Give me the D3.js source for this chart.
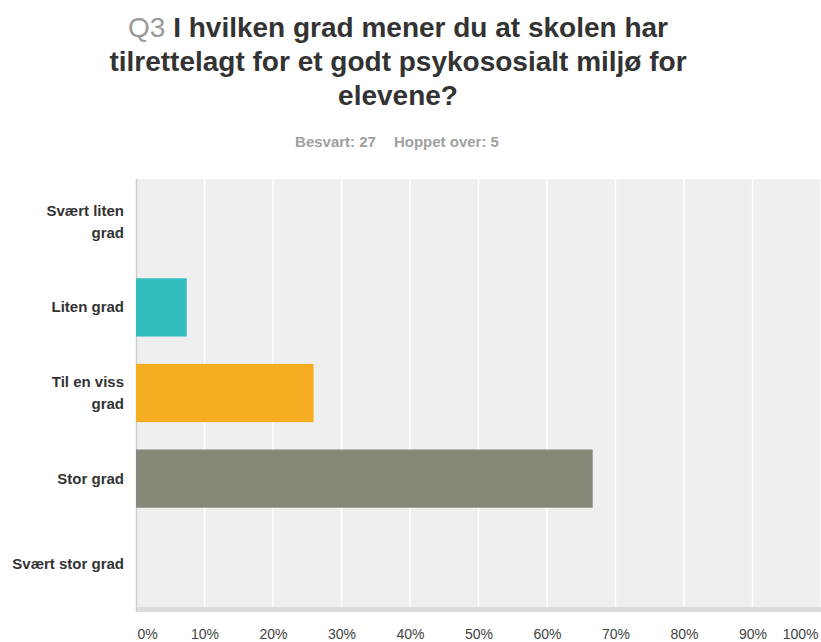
<!DOCTYPE html>
<html><head><meta charset="utf-8">
<script src="https://cdn.jsdelivr.net/npm/d3@7/dist/d3.min.js"></script>
<style>body{margin:0;background:#fff;}svg{display:block;font-family:"Liberation Sans",Arial,sans-serif;}</style>
</head><body>
<script>
const categories = ["Svært liten grad","Liten grad","Til en viss grad","Stor grad","Svært stor grad"];
const labelLines = [["Svært liten","grad"],["Liten grad"],["Til en viss","grad"],["Stor grad"],["Svært stor grad"]];
const values = [0, 7.41, 25.93, 66.67, 0];
const barColors = ["#32bdbf","#32bdbf","#f6ae20","#878878","#878878"];
const ticks = [0,10,20,30,40,50,60,70,80,90,100];
const titleLines = ["I hvilken grad mener du at skolen har","tilrettelagt for et godt psykososialt miljø for","elevene?"];
const subtitleParts = ["Besvart: 27","Hoppet over: 5"];

const W = 821, H = 642;
const svg = d3.select("body").append("svg").attr("width", W).attr("height", H);
const m = {left:136, top:179};
const x = d3.scaleLinear().domain([0,100]).range([m.left, 821]);
const y = d3.scaleBand().domain(categories).range([m.top, 607]).paddingInner(0.32).paddingOuter(0.16);

// title
const t = svg.append("g").attr("font-weight","bold").attr("font-size",28).attr("fill","#333").attr("text-anchor","middle");
const t1 = t.append("text").attr("x",398).attr("y",37);
t1.append("tspan").attr("fill","#999").attr("font-weight","normal").text("Q3 ");
t1.append("tspan").text(titleLines[0]);
t.append("text").attr("x",398).attr("y",71).text(titleLines[1]);
t.append("text").attr("x",398).attr("y",105).text(titleLines[2]);
const st = svg.append("text").attr("x",397).attr("y",147).attr("text-anchor","middle").attr("font-size",15)
  .attr("font-weight","bold").attr("fill","#a0a0a0");
st.append("tspan").text(subtitleParts[0]);
st.append("tspan").attr("dx",18).text(subtitleParts[1]);

// plot bg
svg.append("rect").attr("x",m.left).attr("y",m.top).attr("width",821-m.left).attr("height",607-m.top).attr("fill","#efefef");
svg.append("rect").attr("x",m.left).attr("y",607).attr("width",821-m.left).attr("height",5).attr("fill","#dcdcdc");
// grid
svg.append("g").selectAll("line").data(ticks.slice(1)).join("line")
  .attr("x1",d=>x(d)).attr("x2",d=>x(d)).attr("y1",m.top).attr("y2",607)
  .attr("stroke","#fff").attr("stroke-width",1.5);
svg.append("line").attr("x1",m.left+0.5).attr("x2",m.left+0.5).attr("y1",m.top).attr("y2",612).attr("stroke","#cfcfcf").attr("stroke-width",1.5);

// bars
svg.append("g").selectAll("rect").data(categories).join("rect")
  .attr("x",x(0)).attr("y",d=>y(d)).attr("height",y.bandwidth())
  .attr("width",(d,i)=>x(values[i])-x(0)).attr("fill",(d,i)=>barColors[i]);

// y labels
const yl = svg.append("g").attr("font-size",15).attr("font-weight","bold").attr("fill","#333").attr("text-anchor","end");
categories.forEach((c,i)=>{
  const lines = labelLines[i];
  const cy = y(c)+y.bandwidth()/2;
  const lh = 22;
  const txt = yl.append("text").attr("x",124).attr("y",cy - (lines.length-1)*lh/2 + 5);
  lines.forEach((l,j)=>txt.append("tspan").attr("x",124).attr("dy",j?lh:0).text(l));
});

// x axis
const xa = svg.append("g").attr("transform","translate(0,612)").call(d3.axisBottom(x).tickValues(ticks).tickSize(0).tickPadding(17).tickFormat(d=>d+"%"));
xa.select(".domain").remove();
xa.selectAll("text").attr("font-size",14).attr("fill","#444").attr("font-family","Liberation Sans, Arial, sans-serif")
  .attr("text-anchor",d=>d===0?"start":(d===100?"end":"middle"))
  .attr("dx",d=>d===0?1:(d===100?-3:0));
</script>
</body></html>
